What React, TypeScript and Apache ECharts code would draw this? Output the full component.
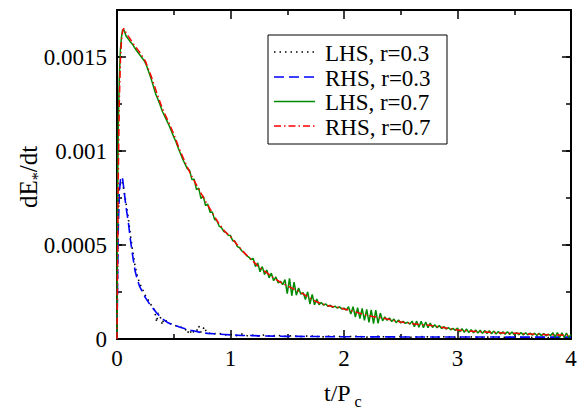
import React, { useEffect, useRef } from "react";
import * as echarts from "echarts";

const FONT = "Liberation Serif";

const seriesNames = ["LHS, r=0.3", "RHS, r=0.3", "LHS, r=0.7", "RHS, r=0.7"];
const seriesColors = ["#000000", "#0000ff", "#008b00", "#ff0000"];
const seriesDash: (number[] | null)[] = [[1.5, 4], [10, 5], null, [7, 3, 1.5, 3]];
const xTickLabels = ["0", "1", "2", "3", "4"];
const yTickLabels = ["0", "0.0005", "0.001", "0.0015"];

// All series values are in units of 1e-6 (dE*/dt).
// LHS, r=0.3 (black dotted)
const lhs03T = [0, 0.005, 0.01, 0.02, 0.03, 0.04, 0.05, 0.06, 0.08, 0.1, 0.12, 0.14, 0.16, 0.18, 0.2, 0.25, 0.3, 0.33, 0.35, 0.36, 0.38, 0.4, 0.41, 0.45, 0.5, 0.55, 0.6, 0.62, 0.64, 0.66, 0.68, 0.7, 0.72, 0.74, 0.77, 0.79, 0.85, 0.9, 0.95, 1.0, 1.05, 1.1, 1.15, 1.2, 1.25, 1.3, 1.35, 1.4, 1.5, 1.55, 1.6, 1.7, 1.8, 1.9, 2.0, 2.1, 2.2, 2.3, 2.4, 2.5, 2.6, 2.7, 2.8, 2.9, 3.0, 3.1, 3.2, 3.3, 3.4, 3.5, 3.6, 3.7, 3.8, 3.9, 4.0];
const lhs03V = [0, 380, 640, 790, 830, 840, 825, 795, 720, 640, 545, 460, 385, 335, 295, 232, 182, 155, 90, 138, 120, 75, 106, 88, 74, 65, 56, 30, 50, 25, 45, 40, 70, 35, 65, 32, 28, 30, 22, 24, 18, 26, 17, 20, 15, 22, 14, 20, 13, 19, 12, 17, 11, 16, 11, 15, 10, 14, 10, 13, 9, 13, 9, 12, 9, 12, 8, 11, 8, 11, 8, 10, 8, 10, 8];

// RHS, r=0.3 (blue dashed)
const rhs03T = [0, 0.005, 0.01, 0.02, 0.03, 0.04, 0.05, 0.06, 0.08, 0.1, 0.12, 0.14, 0.16, 0.18, 0.2, 0.25, 0.3, 0.35, 0.4, 0.45, 0.5, 0.55, 0.6, 0.65, 0.7, 0.75, 0.8, 0.85, 0.9, 0.95, 1.0, 1.1, 1.2, 1.3, 1.4, 1.5, 1.6, 1.7, 1.8, 1.9, 2.0, 2.5, 3.0, 3.5, 4.0];
const rhs03V = [0, 300, 560, 770, 845, 865, 850, 800, 700, 620, 520, 435, 360, 315, 278, 220, 175, 138, 108, 86, 74, 64, 55, 47, 40, 33, 30, 28, 26, 24, 22, 19, 18, 16, 15, 14, 14, 13, 13, 12, 12, 11, 11, 10, 10];

// LHS, r=0.7 (green solid): start-up detail, then samples every 0.02 from t = 0
const lhs07EarlyT = [0.004, 0.008, 0.012, 0.03, 0.05];
const lhs07EarlyV = [600, 950, 1150, 1540, 1645];
const lhs07Step = 0.02;
const lhs07V = [
  0, 1380, 1610, 1645, 1612, 1595, 1578, 1565, 1545, 1528, // 0.00-0.18
  1512, 1496, 1480, 1455, 1420, 1385, 1345, 1305, 1275, 1245, // 0.20-0.38
  1210, 1185, 1160, 1135, 1105, 1075, 1048, 1015, 985, 955, // 0.40-0.58
  930, 905, 897, 848, 850, 795, 803, 747, 760, 710, // 0.60-0.78
  717, 674, 675, 635, 630, 600, 593, 572, 567, 552, // 0.80-0.98
  550, 522, 520, 492, 486, 468, 459, 445, 436, 423, // 1.00-1.18
  428, 385, 405, 358, 385, 343, 367, 325, 350, 310, // 1.20-1.38
  330, 298, 307, 289, 316, 241, 322, 230, 303, 233, // 1.40-1.58
  271, 238, 247, 210, 251, 186, 237, 182, 212, 183, // 1.60-1.78
  194, 180, 186, 173, 180, 168, 175, 165, 171, 160, // 1.80-1.98
  164, 154, 172, 133, 172, 117, 167, 108, 163, 99, // 2.00-2.18
  158, 89, 155, 82, 154, 83, 138, 97, 117, 100, // 2.20-2.38
  112, 93, 106, 87, 101, 85, 94, 83, 89, 79, // 2.40-2.58
  95, 66, 95, 62, 94, 60, 90, 60, 85, 61, // 2.60-2.78
  76, 60, 72, 55, 66, 53, 61, 49, 57, 46, // 2.80-2.98
  58, 38, 55, 36, 53, 34, 50, 33, 48, 32, // 3.00-3.18
  47, 30, 45, 29, 44, 28, 42, 27, 40, 26, // 3.20-3.38
  39, 25, 38, 24, 37, 23, 35, 23, 34, 22, // 3.40-3.58
  33, 21, 32, 20, 31, 19, 30, 18, 29, 17, // 3.60-3.78
  26, 18, 34, 10, 34, 9, 33, 8, 32, 9, // 3.80-3.98
  22, // 4.00
];

// RHS, r=0.7 (red dash-dot): start-up detail, then samples every 0.05 from t = 0.10
const rhs07EarlyT = [0, 0.005, 0.01, 0.02, 0.03, 0.04, 0.05, 0.06, 0.08];
const rhs07EarlyV = [0, 400, 800, 1250, 1480, 1590, 1640, 1652, 1630];
const rhs07Start = 0.1;
const rhs07Step = 0.05;
const rhs07V = [
  1610, 1565, 1525, 1478, 1400, 1310, 1225, 1160, 1090, 1010, // 0.10-0.55
  940, 875, 820, 765, 712, 660, 612, 572, 545, 508, // 0.60-1.05
  472, 441, 413, 383, 361, 339, 317, 298, 283, 268, // 1.10-1.55
  254, 236, 217, 200, 188, 179, 173, 168, 160, 153, // 1.60-2.05
  144, 135, 126, 120, 115, 110, 104, 97, 91, 86, // 2.10-2.55
  81, 78, 76, 73, 69, 63, 58, 53, 48, 45, // 2.60-3.05
  43, 40, 39, 37, 35, 34, 32, 31, 30, 29, // 3.10-3.55
  27, 26, 25, 24, 22, 22, 21, 20, 20, // 3.60-4.00
];

const UNIT = 1e-6;

function pairs(ts: number[], vs: number[]): [number, number][] {
  return ts.map((t, i) => [t, vs[i] * UNIT]);
}
function gridPairs(start: number, step: number, vs: number[]): [number, number][] {
  return vs.map((v, i) => [Math.round((start + i * step) * 1000) / 1000, v * UNIT]);
}
function merged(a: [number, number][], b: [number, number][]) {
  return [...a, ...b].sort((p, q) => p[0] - q[0]);
}

function txt(text: string, x: number, y: number, size: number) {
  return {
    type: "text",
    x,
    y,
    z: 100,
    style: {
      text,
      fontFamily: FONT,
      fontSize: size,
      fill: "#000",
      align: "left",
      verticalAlign: "middle",
      textAlign: "left",
      textVerticalAlign: "middle",
    },
  };
}

export default function App() {
  const ref = useRef<HTMLDivElement>(null);
  useEffect(() => {
    document.body.style.margin = "0";
    if (!ref.current) return;
    const chart = echarts.init(ref.current, undefined, { renderer: "svg" });

    const black = "#000000";
    const labelStyle = { fontFamily: FONT, fontSize: 23, color: black };
    const lineAx = { show: true, onZero: false, lineStyle: { color: black, width: 2 } };

    const xBase = (pos: "bottom" | "top", labels: boolean) => ({
      type: "value" as const,
      position: pos,
      min: 0,
      max: 4,
      interval: 1,
      axisLine: lineAx,
      axisTick: { show: true, inside: true, length: 9, lineStyle: { color: black, width: 1.5 } },
      minorTick: { show: true, splitNumber: 2, length: 5, lineStyle: { color: black, width: 1.5 } },
      splitLine: { show: false },
      minorSplitLine: { show: false },
      axisLabel: labels
        ? {
            show: true,
            margin: 8,
            ...labelStyle,
            formatter: (v: number) => {
              const i = Math.round(v);
              return Math.abs(v - i) < 1e-9 && xTickLabels[i] !== undefined ? xTickLabels[i] : "";
            },
          }
        : { show: false },
    });

    const yBase = (pos: "left" | "right", major: boolean, labels: boolean) => ({
      type: "value" as const,
      position: pos,
      min: 0,
      max: 0.00175,
      interval: major ? 0.0005 : 0.00025,
      axisLine: lineAx,
      axisTick: { show: true, inside: true, length: major ? 9 : 5, lineStyle: { color: black, width: 1.5 } },
      splitLine: { show: false },
      axisLabel: labels
        ? {
            show: true,
            margin: 10,
            showMaxLabel: false,
            ...labelStyle,
            formatter: (v: number) => {
              const k = Math.round(v / 0.0005);
              return Math.abs(v - k * 0.0005) < 1e-9 && yTickLabels[k] !== undefined ? yTickLabels[k] : "";
            },
          }
        : { show: false },
    });

    const lineCommon = { type: "line" as const, showSymbol: false, symbol: "none", xAxisIndex: 0, yAxisIndex: 0, animation: false };

    // legend drawn as graphic: box, sample lines, names
    const legendRowsY = [52, 77, 101.5, 126];
    const legendEls: any[] = [
      { type: "rect", z: 99, shape: { x: 268, y: 35, width: 179, height: 109 }, style: { fill: "#fff", stroke: black, lineWidth: 1 } },
    ];
    seriesNames.forEach((name, i) => {
      legendEls.push({
        type: "line",
        z: 100,
        shape: { x1: 274, y1: legendRowsY[i], x2: 315, y2: legendRowsY[i] },
        style: { stroke: seriesColors[i], lineWidth: 1.6, lineDash: seriesDash[i] || undefined },
      });
      legendEls.push(txt(name, 325, legendRowsY[i] + 1, 23));
    });

    chart.setOption({
      animation: false,
      backgroundColor: "#ffffff",
      textStyle: { fontFamily: FONT },
      grid: { left: 117, right: 9, top: 10, bottom: 70, containLabel: false },
      xAxis: [xBase("bottom", true), xBase("top", false)],
      yAxis: [yBase("left", true, true), yBase("left", false, false), yBase("right", true, false), yBase("right", false, false)],
      graphic: [
        ...legendEls,
        {
          type: "group",
          x: 37,
          y: 208,
          rotation: Math.PI / 2,
          children: [txt("dE", 0, -8.5, 25), txt("*", 27.8, 0.5, 16), txt("/dt", 35.8, -8.5, 25)],
        },
        txt("t/P", 324, 393.4, 24),
        txt("c", 354.5, 401, 16),
      ],
      series: [
        { ...lineCommon, name: seriesNames[0], data: pairs(lhs03T, lhs03V), z: 2, lineStyle: { color: seriesColors[0], width: 1.6, type: seriesDash[0] } },
        { ...lineCommon, name: seriesNames[1], data: pairs(rhs03T, rhs03V), z: 3, lineStyle: { color: seriesColors[1], width: 1.6, type: seriesDash[1] } },
        { ...lineCommon, name: seriesNames[2], data: merged(pairs(lhs07EarlyT, lhs07EarlyV), gridPairs(0, lhs07Step, lhs07V)), z: 4, lineStyle: { color: seriesColors[2], width: 1.5, type: "solid" } },
        { ...lineCommon, name: seriesNames[3], data: merged(pairs(rhs07EarlyT, rhs07EarlyV), gridPairs(rhs07Start, rhs07Step, rhs07V)), z: 5, lineStyle: { color: seriesColors[3], width: 1.5, type: seriesDash[3] } },
      ],
    });
    return () => chart.dispose();
  }, []);
  return <div ref={ref} style={{ width: 580, height: 409 }} />;
}
